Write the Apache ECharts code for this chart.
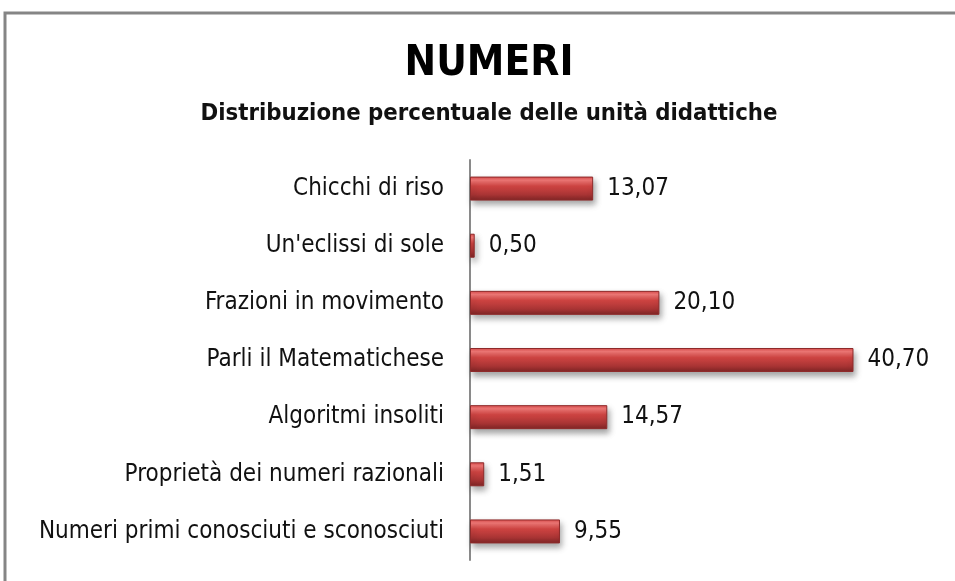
<!DOCTYPE html>
<html>
<head>
<meta charset="utf-8">
<script src="https://cdn.jsdelivr.net/npm/echarts@6/dist/echarts.min.js"></script>
<style>
  html, body { margin: 0; padding: 0; background: #fff; }
  #chart { width: 955px; height: 581px; }
</style>
</head>
<body>
<div id="chart"></div>
<script>
// categories listed bottom to top (ECharts category axis starts at the bottom)
const categories = [
  'Numeri primi conosciuti e sconosciuti',
  'Proprietà dei numeri razionali',
  'Algoritmi insoliti',
  'Parli il Matematichese',
  'Frazioni in movimento',
  "Un'eclissi di sole",
  'Chicchi di riso'
];
const values = [9.55, 1.51, 14.57, 40.70, 20.10, 0.50, 13.07];

const titleText = 'NUMERI';
const subtitleText = 'Distribuzione percentuale delle unità didattiche';

const font = '"DejaVu Sans Condensed", "Open Sans", sans-serif';

const chart = echarts.init(document.getElementById('chart'));

const option = {
  backgroundColor: '#ffffff',
  animation: false,
  title: {
    text: titleText,
    subtext: subtitleText,
    left: 484,
    textAlign: 'center',
    top: 38,
    itemGap: 17,
    textStyle: {
      fontFamily: font,
      fontSize: 42,
      fontWeight: 'bold',
      color: '#000'
    },
    subtextStyle: {
      fontFamily: font,
      fontSize: 23.7,
      fontWeight: 'bold',
      color: '#111'
    }
  },
  graphic: [
    {
      type: 'rect',
      shape: { x: 5, y: 13, width: 960, height: 600 },
      style: { fill: 'none', stroke: '#858585', lineWidth: 3 },
      silent: true
    }
  ],
  grid: {
    left: 470,
    right: 61,
    top: 160,
    bottom: 21
  },
  xAxis: {
    type: 'value',
    min: 0,
    max: 45,
    show: false
  },
  yAxis: {
    type: 'category',
    data: categories,
    axisLine: { show: true, lineStyle: { color: '#8a8a8a', width: 2 } },
    axisTick: { show: false },
    axisLabel: {
      fontFamily: font,
      fontSize: 24,
      color: '#111',
      margin: 26
    }
  },
  series: [
    {
      type: 'bar',
      data: values,
      barCategoryGap: '58%',
      itemStyle: {
        color: new echarts.graphic.LinearGradient(0, 0, 0, 1, [
          { offset: 0, color: '#d94a4a' },
          { offset: 0.15, color: '#f47a78' },
          { offset: 0.4, color: '#cf4442' },
          { offset: 0.75, color: '#a93434' },
          { offset: 1, color: '#7e2525' }
        ]),
        borderColor: '#8e2a2a',
        borderWidth: 1,
        shadowColor: 'rgba(0,0,0,0.35)',
        shadowBlur: 6,
        shadowOffsetX: 2,
        shadowOffsetY: 4
      },
      label: {
        show: true,
        position: 'right',
        distance: 14,
        fontFamily: font,
        fontSize: 24,
        color: '#111',
        formatter: p => p.value.toFixed(2).replace('.', ',')
      }
    }
  ]
};

chart.setOption(option);
</script>
</body>
</html>
